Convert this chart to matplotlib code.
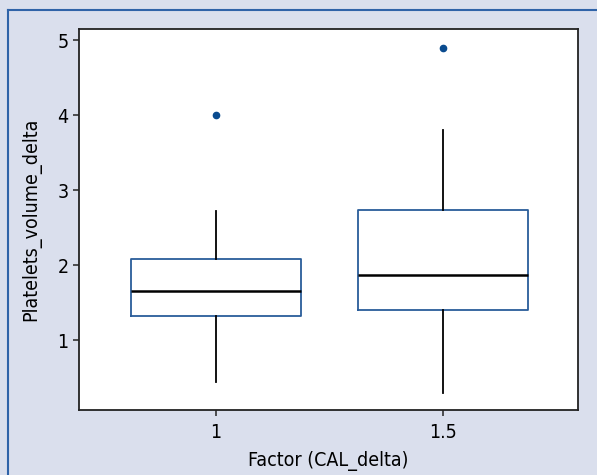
import matplotlib
matplotlib.use('Agg')
import matplotlib.pyplot as plt
from matplotlib.lines import Line2D

plt.rcParams['font.family'] = ['DejaVu Sans']
plt.rcParams['font.stretch'] = 'condensed'

# box statistics
groups = [1, 1.5]
whislo = [0.44, 0.29]
q1 = [1.32, 1.40]
med = [1.65, 1.87]
q3 = [2.08, 2.73]
whishi = [2.72, 3.80]
fliers = [[4.0], [4.9]]

stats = []
for i in range(len(groups)):
    stats.append({'whislo': whislo[i], 'q1': q1[i], 'med': med[i], 'q3': q3[i],
                  'whishi': whishi[i], 'fliers': fliers[i]})

bg = '#dadfed'
fig = plt.figure(figsize=(5.97, 4.75), dpi=100, facecolor=bg)
ax = fig.add_axes([79/597, 1 - 410/475, (578-79)/597, (410-29)/475])

ax.bxp(stats, positions=groups, widths=0.374, showcaps=False,
       boxprops=dict(color='#2a5d9a', linewidth=1.3),
       medianprops=dict(color='black', linewidth=1.8),
       whiskerprops=dict(color='black', linewidth=1.3),
       flierprops=dict(marker='o', markerfacecolor='#0a4b8f', markeredgecolor='#0a4b8f',
                       markersize=4.5))

ax.set_xlim(0.698, 1.797)
ax.set_ylim(0.067, 5.147)
ax.set_xticks(groups)
ax.set_xticklabels(['1', '1.5'])
ax.set_yticks([1, 2, 3, 4, 5])
ax.tick_params(labelsize=14, length=4.5, width=1.2, pad=3, color='#333333')
ax.tick_params(axis='x', pad=5)
for s in ax.spines.values():
    s.set_linewidth(1.3)
    s.set_color('#222222')
ax.set_xlabel('Factor (CAL_delta)', fontsize=14, labelpad=6)
ax.set_ylabel('Platelets_volume_delta', fontsize=14, labelpad=12)

# frame lines on the top and left of the panel
fig.add_artist(Line2D([8/597, 1], [1 - 10/475, 1 - 10/475], color='#2f63a8', linewidth=1.5))
fig.add_artist(Line2D([8/597, 8/597], [0, 1 - 10/475], color='#2f63a8', linewidth=1.5))

fig.savefig('out.png', dpi=100, facecolor=bg)
